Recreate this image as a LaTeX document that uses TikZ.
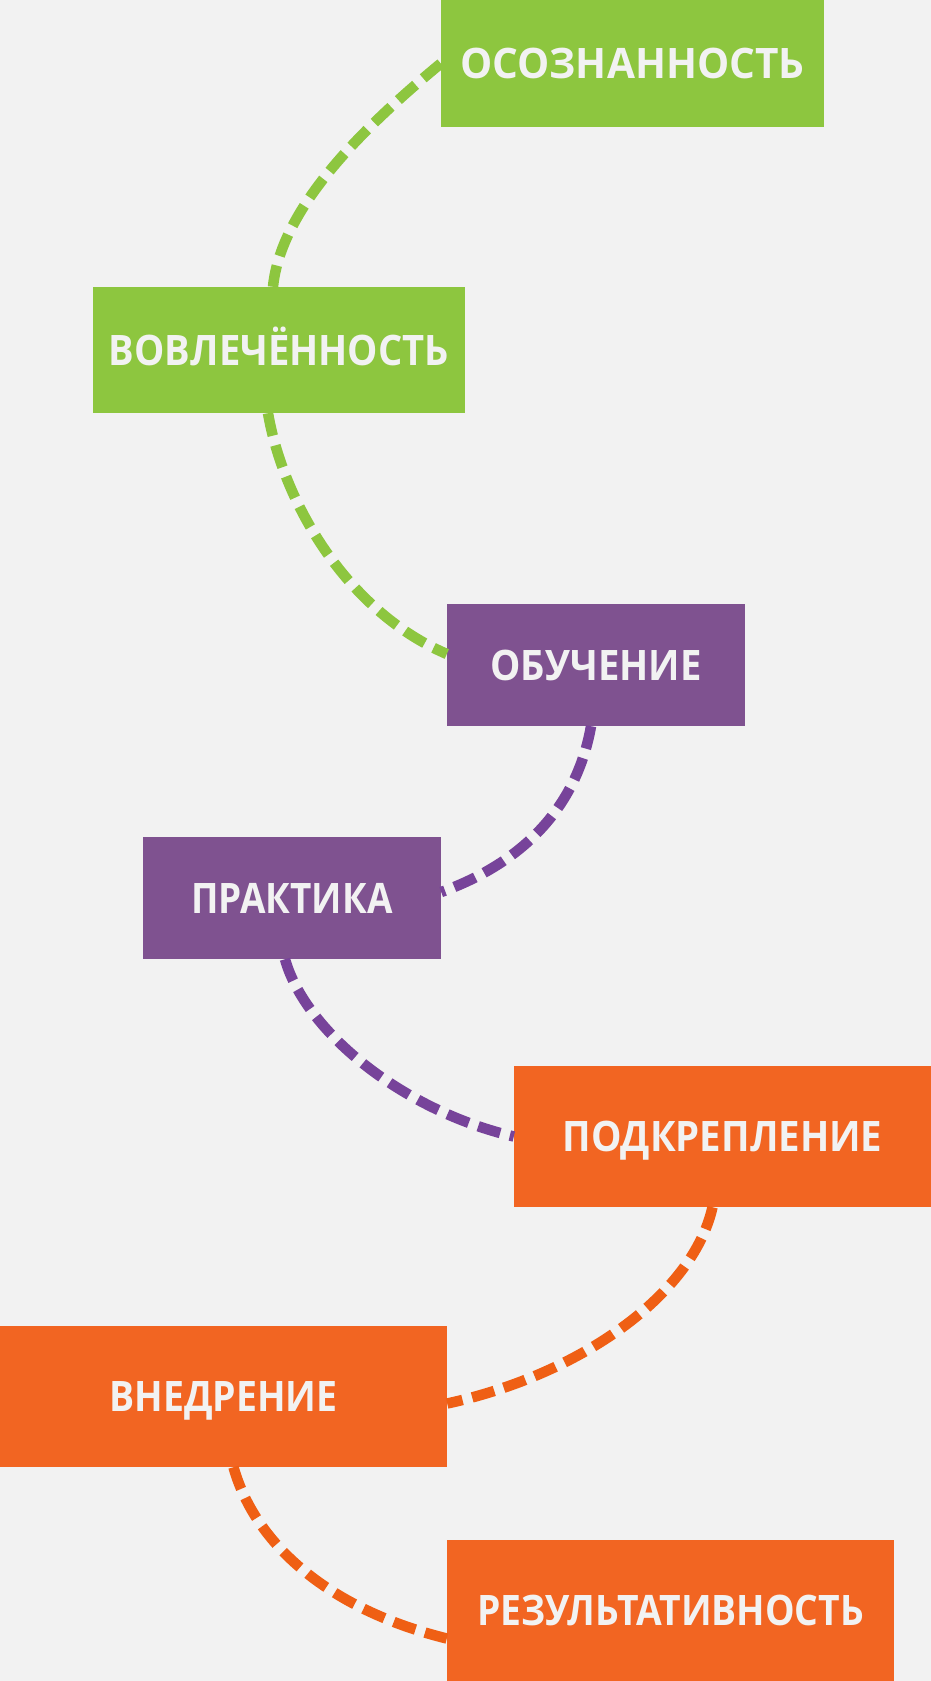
\documentclass[tikz,border=0pt]{standalone}
\usepackage{fontspec}
\setmainfont{Open Sans}
\usepackage{graphicx}
\definecolor{bg}{HTML}{F2F2F2}
\definecolor{grn}{HTML}{8DC63F}
\definecolor{pur}{HTML}{7F5290}
\definecolor{purl}{HTML}{77439A}
\definecolor{org}{HTML}{F26522}
\definecolor{orgl}{HTML}{EF5F14}
\definecolor{txt}{HTML}{F2F2F2}
\tikzset{
  stage/.style={rectangle, inner sep=0pt, text=txt,
    font=\bfseries\fontsize{42}{42}\selectfont, text height=30pt, text depth=0pt},
  link/.style={line width=10.5pt, dash pattern=on 23pt off 10pt},
}
\newcommand\fitw[2]{\resizebox{#1}{\height}{#2}}
\begin{document}
\begin{tikzpicture}[x=1pt,y=-1pt]
\fill[bg] (0,0) rectangle (931,1681);
\useasboundingbox (0,0) rectangle (931,1681);
% nodes
\node[stage, fill=grn, minimum width=383pt, minimum height=127pt] (a) at (632.5,63.5) {\fitw{344pt}{ОСОЗНАННОСТЬ}};
\node[stage, fill=grn, minimum width=372pt, minimum height=126pt] (b) at (279,350) {\fitw{340pt}{ВОВЛЕЧЁННОСТЬ}};
\node[stage, fill=pur, minimum width=298pt, minimum height=122pt] (c) at (596,665) {\fitw{211pt}{ОБУЧЕНИЕ}};
\node[stage, fill=pur, minimum width=298pt, minimum height=122pt] (d) at (292,898) {\fitw{201pt}{ПРАКТИКА}};
\node[stage, fill=org, minimum width=417pt, minimum height=141pt] (e) at (722.5,1136.5) {\fitw{320pt}{ПОДКРЕПЛЕНИЕ}};
\node[stage, fill=org, minimum width=447pt, minimum height=141pt] (f) at (223.5,1396.5) {\fitw{228pt}{ВНЕДРЕНИЕ}};
\node[stage, fill=org, minimum width=447pt, minimum height=141pt] (g) at (670.5,1610.5) {\fitw{387pt}{РЕЗУЛЬТАТИВНОСТЬ}};
% connectors
\draw[link, grn] (a.west) .. controls +(-75,62) and +(8,-80) .. ([xshift=-6pt]b.north);
\draw[link, grn] ([xshift=-11pt]b.south) .. controls +(15,87) and +(-102,-44) .. ([yshift=11pt]c.west);
\draw[link, purl] ([xshift=-5pt]c.south) .. controls +(-13,74) and +(89,-32) .. ([yshift=6pt]d.east);
\draw[link, purl] ([xshift=-7pt]d.south) .. controls +(20,71) and +(-114,-27) .. (e.west);
\draw[link, orgl] ([xshift=-10pt]e.south) .. controls +(-20,88) and +(133,-29) .. ([yshift=-7pt]f.east);
\draw[link, orgl] ([xshift=10pt]f.south) .. controls +(22,78) and +(-117,-29) .. ([yshift=-28pt]g.west);
\end{tikzpicture}
\end{document}
